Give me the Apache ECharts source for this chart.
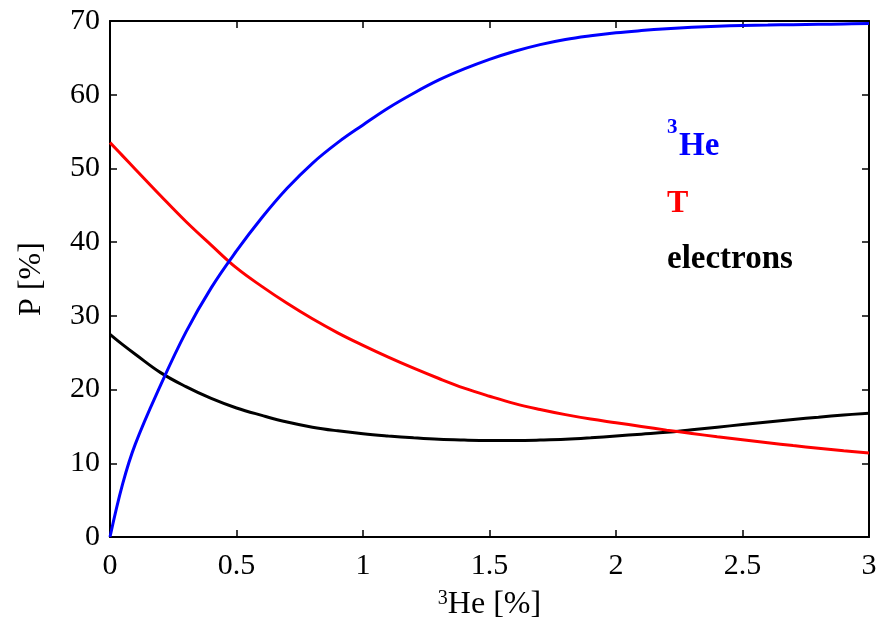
<!DOCTYPE html>
<html>
<head>
<meta charset="utf-8">
<script src="https://cdn.jsdelivr.net/npm/echarts@6/dist/echarts.min.js"></script>
<style>
  html, body { margin: 0; padding: 0; background: #fff; }
  #chart { width: 884px; height: 628px; }
</style>
</head>
<body>
<div id="chart"></div>
<script>
// Helium-3 concentration [%] on the x axis
const he3Conc = [0, 0.05, 0.1, 0.2, 0.3, 0.4, 0.5, 0.6, 0.7, 0.8, 0.9, 1.0,
                 1.1, 1.2, 1.3, 1.4, 1.5, 1.6, 1.7, 1.8, 1.9, 2.0,
                 2.1, 2.2, 2.3, 2.4, 2.5, 2.6, 2.7, 2.8, 2.9, 3.0];

// Power fraction P [%] carried by each product
const pHe3 = [0, 7.2, 12.6, 20.6, 27.8, 33.8, 38.8, 43.3, 47.3, 50.7, 53.5, 55.9,
              58.2, 60.2, 62.0, 63.5, 64.8, 65.9, 66.8, 67.5, 68.0, 68.4,
              68.7, 68.95, 69.15, 69.3, 69.4, 69.45, 69.5, 69.55, 69.6, 69.65];
const pT = [53.5, 51.7, 49.9, 46.3, 42.8, 39.6, 36.5, 34.0, 31.7, 29.6, 27.7, 26.0,
            24.4, 22.9, 21.5, 20.2, 19.1, 18.1, 17.3, 16.6, 16.0, 15.5,
            15.0, 14.5, 14.05, 13.6, 13.2, 12.8, 12.4, 12.05, 11.7, 11.4];
const pElectrons = [27.5, 26.1, 24.8, 22.3, 20.4, 18.8, 17.5, 16.5, 15.6, 14.9, 14.4, 14.0,
                    13.7, 13.45, 13.25, 13.15, 13.1, 13.1, 13.15, 13.25, 13.45, 13.7,
                    13.95, 14.2, 14.55, 14.9, 15.25, 15.6, 15.95, 16.25, 16.55, 16.8];

const xTicks = { min: 0, max: 3, interval: 0.5 };
const yTicks = { min: 0, max: 70, interval: 10 };

const FONT = '"Liberation Serif", "Times New Roman", serif';

const pairs = ys => he3Conc.map((x, i) => [x, ys[i]]);

const chart = echarts.init(document.getElementById('chart'));

const frameAxis = (extra) => Object.assign({
  type: 'value',
  axisLine: { show: true, onZero: false, lineStyle: { color: '#000', width: 2 } },
  axisTick: { show: true, inside: true, length: 7, lineStyle: { color: '#000', width: 1.5 } },
  splitLine: { show: false },
  axisLabel: { show: false }
}, extra);

const lineSeries = (name, ys, color) => ({
  name, type: 'line', data: pairs(ys),
  xAxisIndex: 0, yAxisIndex: 0,
  showSymbol: false, smooth: 0.4,
  lineStyle: { color, width: 3 },
  itemStyle: { color },
  animation: false, z: 3
});

chart.setOption({
  animation: false,
  backgroundColor: '#fff',
  grid: { left: 110, right: 15, top: 21, bottom: 91, containLabel: false },
  xAxis: [
    frameAxis(Object.assign({}, xTicks, {
      position: 'bottom',
      axisLabel: { show: true, color: '#000', fontFamily: FONT, fontSize: 30, margin: 14 },
      name: '{sup|3}{t|He [%]}',
      nameLocation: 'middle',
      nameGap: 52,
      nameTextStyle: {
        color: '#000', fontFamily: FONT, fontSize: 32,
        rich: {
          sup: { fontFamily: FONT, fontSize: 20, color: '#000', verticalAlign: 'top', padding: [0, 0, 12, 0] },
          t: { fontFamily: FONT, fontSize: 32, color: '#000' }
        }
      }
    })),
    frameAxis(Object.assign({}, xTicks, { position: 'top' }))
  ],
  yAxis: [
    frameAxis(Object.assign({}, yTicks, {
      position: 'left',
      axisLabel: { show: true, color: '#000', fontFamily: FONT, fontSize: 30, margin: 10 },
      name: 'P [%]',
      nameLocation: 'middle',
      nameGap: 62,
      nameRotate: 90,
      nameTextStyle: { color: '#000', fontFamily: FONT, fontSize: 32 }
    })),
    frameAxis(Object.assign({}, yTicks, { position: 'right' }))
  ],
  series: [
    lineSeries('electrons', pElectrons, '#000000'),
    lineSeries('T', pT, '#ff0000'),
    lineSeries('3He', pHe3, '#0000ff')
  ],
  graphic: [
    { type: 'text', left: 667, top: 117,
      style: { text: '3', fill: '#0000ff', font: 'bold 21px ' + FONT } },
    { type: 'text', left: 679, top: 130,
      style: { text: 'He', fill: '#0000ff', font: 'bold 33px ' + FONT } },
    { type: 'text', left: 667, top: 188,
      style: { text: 'T', fill: '#ff0000', font: 'bold 32px ' + FONT } },
    { type: 'text', left: 667, top: 243,
      style: { text: 'electrons', fill: '#000000', font: 'bold 33px ' + FONT } }
  ]
});
</script>
</body>
</html>
